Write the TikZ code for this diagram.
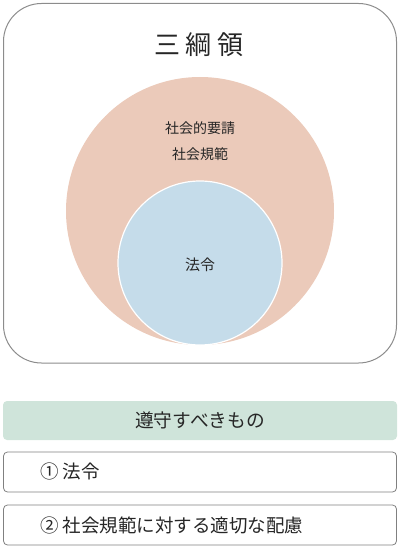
\documentclass[tikz,border=0pt]{standalone}
\usepackage{fontspec}
\setmainfont{Noto Sans CJK JP}
\begin{document}
\begin{tikzpicture}[x=1pt,y=-1pt,
  txt/.style={text=black!85, inner sep=0pt},
  listbox/.style={draw=black!50, line width=0.8pt, rounded corners=4pt, fill=white},
]
\definecolor{salmon}{HTML}{EBCABA}
\definecolor{lightblue}{HTML}{C5DCEA}
\definecolor{mint}{HTML}{CFE4DA}
\useasboundingbox (0,0) rectangle (400,548);
% outer frame
\draw[draw=black!45, line width=1pt, rounded corners=38pt] (3.5,3.5) rectangle (396.5,363) ;
\node[txt, font=\fontsize{26}{30}\selectfont] (t1) at (167,45) {三};
\node[txt, font=\fontsize{26}{30}\selectfont] (t2) at (198,45) {綱};
\node[txt, font=\fontsize{26}{30}\selectfont] (t3) at (230,45) {領};
% circles
\fill[salmon] (200,211) circle (134);
\draw[fill=lightblue, draw=white, line width=1.2pt] (200,263) circle (82);
\node[txt, font=\fontsize{14}{16}\selectfont] (s1) at (200,128) {社会的要請};
\node[txt, font=\fontsize{14}{16}\selectfont] (s2) at (200,154) {社会規範};
\node[txt, font=\fontsize{15}{17}\selectfont] (law) at (200,265) {法令};
% bottom
\fill[mint, rounded corners=4pt] (3,401) rectangle (397,440);
\node[txt, font=\fontsize{18.7}{21}\selectfont] (h) at (200,420) {遵守すべきもの};
\draw[listbox] (3.5,452) rectangle (396.5,492);
\node[txt, anchor=west, font=\fontsize{18.5}{21}\selectfont] (i1) at (40,471) {① 法令};
\draw[listbox] (3.5,505) rectangle (396.5,545);
\node[txt, anchor=west, font=\fontsize{18.5}{21}\selectfont] (i2) at (40,525) {② 社会規範に対する適切な配慮};
\end{tikzpicture}
\end{document}
